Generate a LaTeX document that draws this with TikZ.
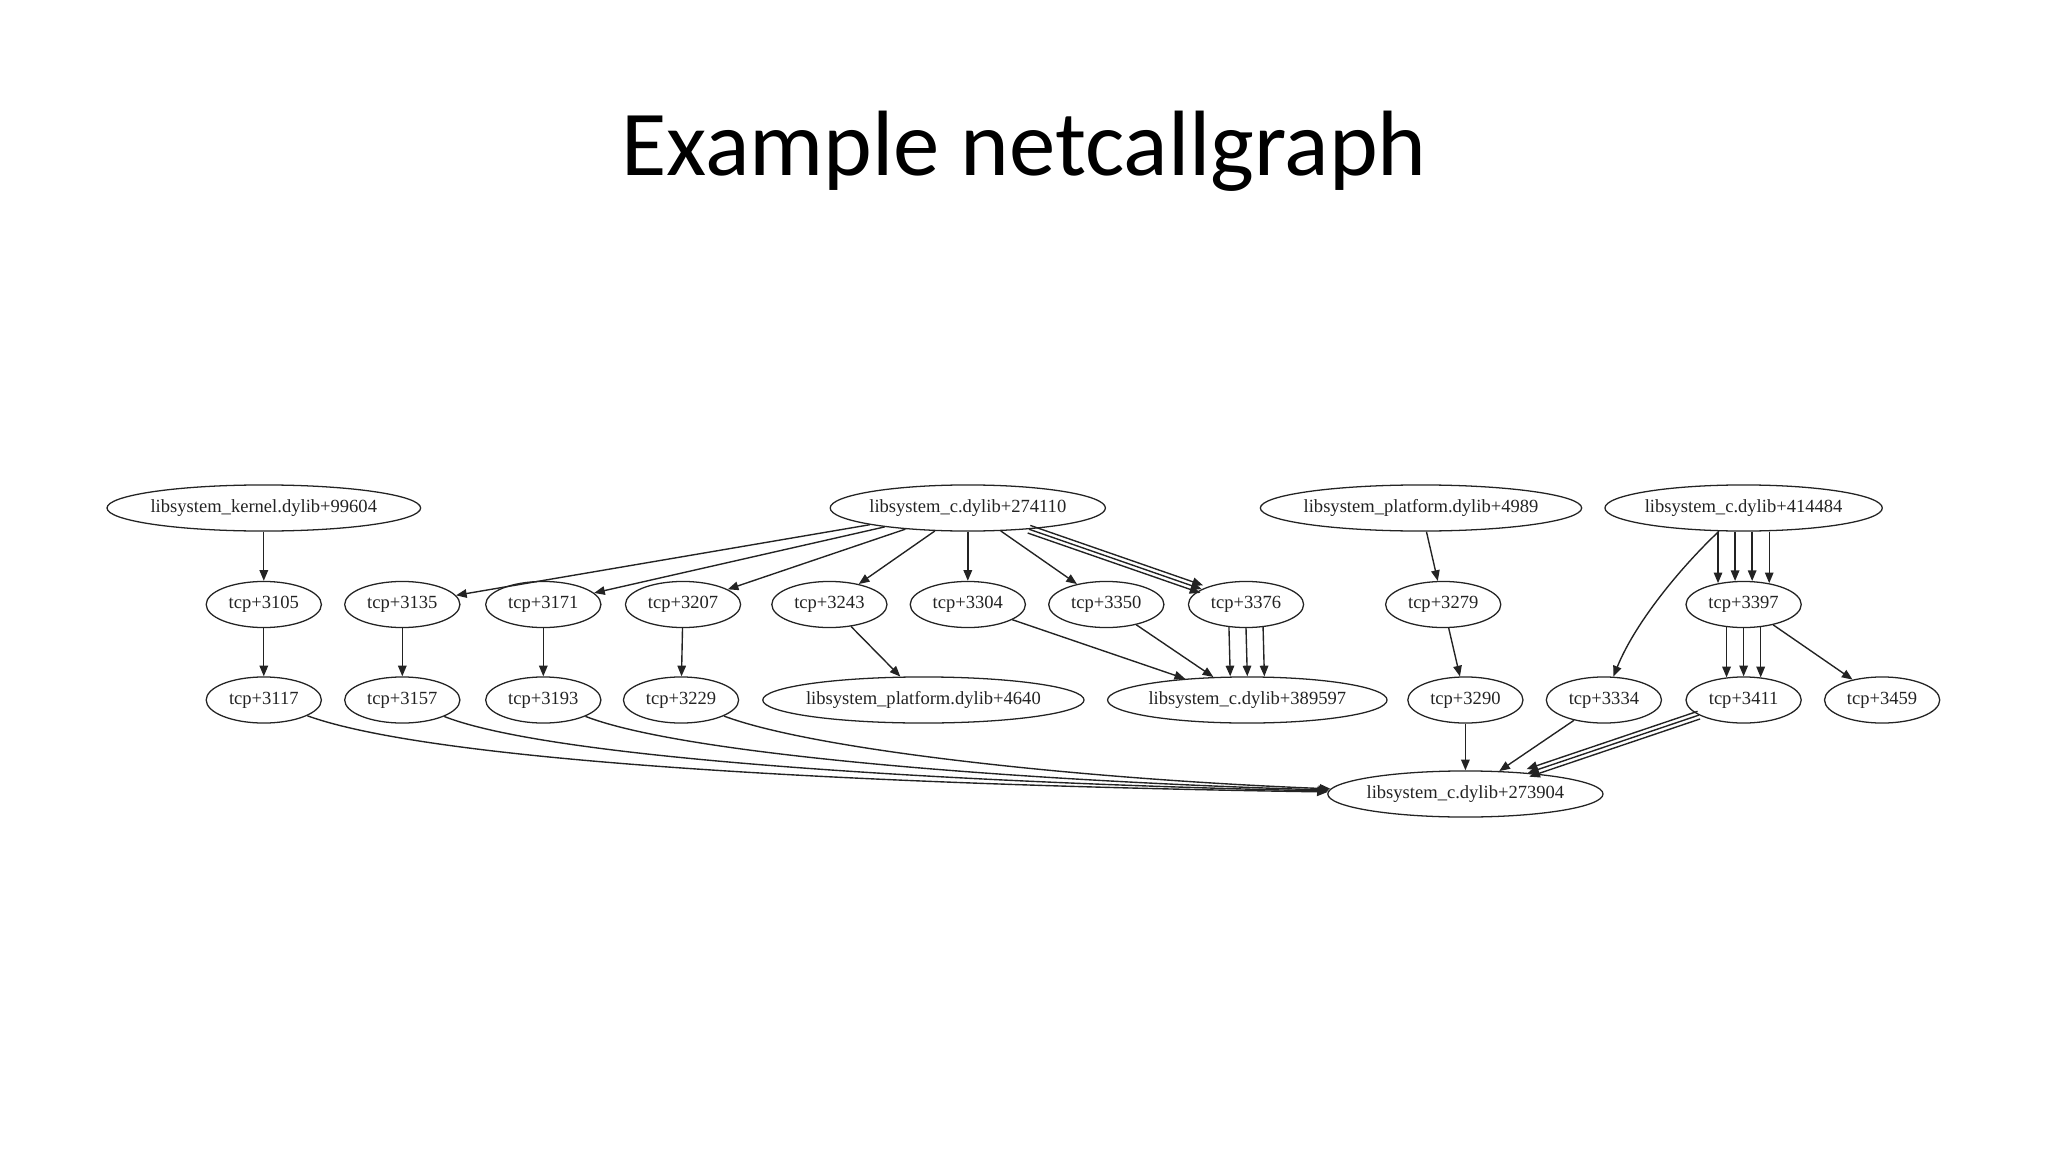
\documentclass[tikz,border=0pt]{standalone}
\usepackage{fontspec}
\setmainfont{Liberation Serif}
\newfontfamily\titlefont{Carlito}
\usetikzlibrary{shapes.geometric,arrows.meta}
\definecolor{inkgray}{RGB}{35,35,35}

\begin{document}
\begin{tikzpicture}[
  x=0.46875pt, y=-0.46875pt,
  fn/.style={draw=inkgray, ellipse, line width=0.6pt,
             minimum width=54pt, minimum height=21.6pt,
             inner xsep=0pt, inner ysep=0pt, text=inkgray,
             font=\fontsize{8.7}{10}\selectfont},
  lib/.style={fn, inner xsep=-12pt},
  call/.style={-{Triangle[length=5pt,width=4pt]}, line width=0.65pt, inkgray}
]
\useasboundingbox (0,0) rectangle (2048,1152);

%% ---------- TITLE ----------
\node[font=\titlefont\fontsize{43.5}{50}\selectfont, anchor=base] (title) at (1024,176) {Example netcallgraph};

%% ---------- ROW 1 (entry points) ----------
\node[lib, minimum width=147pt]   (kern)    at (263.8,508)  {libsystem\_kernel.dylib+99604};
\node[lib, minimum width=129pt]   (c274110) at (967.8,508)  {libsystem\_c.dylib+274110};
\node[lib, minimum width=150.6pt] (p4989)   at (1421,508)   {libsystem\_platform.dylib+4989};
\node[lib, minimum width=130pt]   (c414484) at (1743.6,508) {libsystem\_c.dylib+414484};

%% ---------- ROW 2 ----------
\node[fn] (t3105) at (263.8,604.5)  {tcp+3105};
\node[fn] (t3135) at (402.3,604.5)  {tcp+3135};
\node[fn] (t3171) at (543.3,604.5)  {tcp+3171};
\node[fn] (t3207) at (683,604.5)    {tcp+3207};
\node[fn] (t3243) at (829.4,604.5)  {tcp+3243};
\node[fn] (t3304) at (967.8,604.5)  {tcp+3304};
\node[fn] (t3350) at (1106.3,604.5) {tcp+3350};
\node[fn] (t3376) at (1246,604.5)   {tcp+3376};
\node[fn] (t3279) at (1443.2,604.5) {tcp+3279};
\node[fn] (t3397) at (1743.6,604.5) {tcp+3397};

%% ---------- ROW 3 ----------
\node[fn] (t3117) at (263.8,700) {tcp+3117};
\node[fn] (t3157) at (402.3,700) {tcp+3157};
\node[fn] (t3193) at (543.3,700) {tcp+3193};
\node[fn] (t3229) at (681,700)   {tcp+3229};
\node[lib, minimum width=150.6pt] (p4640)   at (923.4,700)  {libsystem\_platform.dylib+4640};
\node[lib, minimum width=131pt]   (c389597) at (1247.3,700) {libsystem\_c.dylib+389597};
\node[fn] (t3290) at (1465.4,700) {tcp+3290};
\node[fn] (t3334) at (1603.9,700) {tcp+3334};
\node[fn] (t3411) at (1743.6,700) {tcp+3411};
\node[fn] (t3459) at (1882.1,700) {tcp+3459};

%% ---------- ROW 4 ----------
\node[lib, minimum width=129pt] (c273904) at (1465.4,794) {libsystem\_c.dylib+273904};

%% ---------- CALLS FROM ROW 1 ----------
\draw[call] (kern) -- (t3105);
\draw[call] (c274110) -- (t3135);
\draw[call] (c274110) -- (t3171);
\draw[call] (c274110) -- (t3207);
\draw[call] (c274110) -- (t3243);
\draw[call] (c274110) -- (t3304);
\draw[call] (c274110) -- (t3350);
\foreach \k in {-1,0,1}
  \draw[call, transform canvas={shift={(-1.3*\k,3.8*\k)}}] (c274110) -- (t3376);
\draw[call] (p4989) -- (t3279);
\draw[call] (c414484) .. controls (1680,568) and (1635,623) .. (t3334);
\foreach \dx/\gap in {-12/1.1,-4/0.1,4/0.1,12/1.1}
  \draw[call] ([xshift=\dx pt]c414484.south) -- ([shift={(\dx pt,-\gap pt)}]t3397.north);

%% ---------- CALLS FROM ROW 2 ----------
\draw[call] (t3105) -- (t3117);
\draw[call] (t3135) -- (t3157);
\draw[call] (t3171) -- (t3193);
\draw[call] (t3207) -- (t3229);
\draw[call] (t3243) -- (p4640);
\draw[call] (t3304) -- (c389597);
\draw[call] (t3350) -- (c389597);
\foreach \dx/\gap in {-8/0.5,0/0,8/0.5}
  \draw[call] ([shift={(\dx pt,\gap pt)}]t3376.south) -- ([xshift=\dx pt]c389597.north);
\draw[call] (t3279) -- (t3290);
\foreach \dx/\gap in {-8/0.5,0/0,8/0.5}
  \draw[call] ([shift={(\dx pt,\gap pt)}]t3397.south) -- ([shift={(\dx pt,-\gap pt)}]t3411.north);
\draw[call] (t3397) -- (t3459);

%% ---------- CALLS INTO libsystem_c.dylib+273904 ----------
\draw[call] (t3117) .. controls (446,766) and (928,786) .. (c273904);
\draw[call] (t3157) .. controls (560,762) and (1000,784) .. (c273904);
\draw[call] (t3193) .. controls (690,757) and (1050,782) .. (c273904);
\draw[call] (t3229) .. controls (820,752) and (1100,780) .. (c273904);
\draw[call] (t3290) -- (c273904);
\draw[call] (t3334) -- (c273904);
\foreach \k in {-1,0,1}
  \draw[call, transform canvas={shift={(1.3*\k,3.8*\k)}}] (t3411) -- (c273904);

\end{tikzpicture}
\end{document}
